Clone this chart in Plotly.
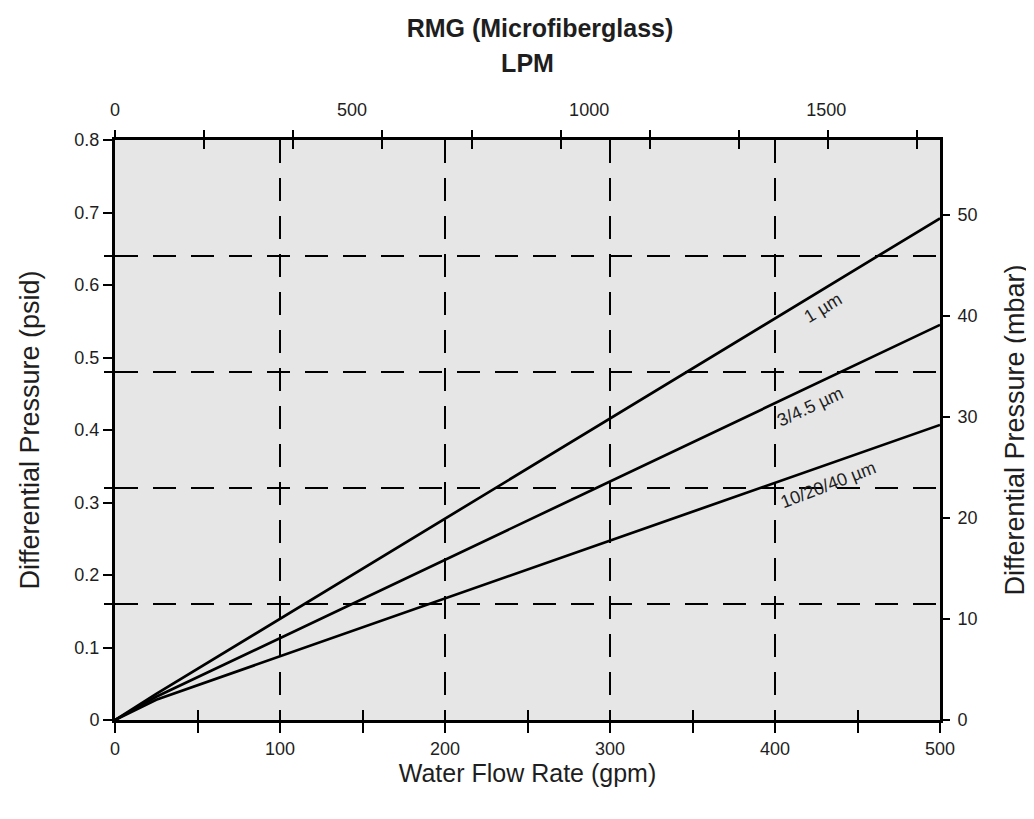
import plotly.graph_objects as go

# ---- data ----
flow_gpm = [0, 25, 500]
dp_1um = [0, 0.036, 0.692]
dp_3_45um = [0, 0.032, 0.545]
dp_10_20_40um = [0, 0.028, 0.407]

series_names = ["1 µm", "3/4.5 µm", "10/20/40 µm"]
label_gpm = [429, 421, 432]
label_psid = [0.568, 0.432, 0.324]
label_angle = [-31, -25, -21]

gpm_ticks = [0, 100, 200, 300, 400, 500]
gpm_minor = [0, 50, 100, 150, 200, 250, 300, 350, 400, 450, 500]
psid_ticks = [0, 0.1, 0.2, 0.3, 0.4, 0.5, 0.6, 0.7, 0.8]
psid_grid = [0.16, 0.32, 0.48, 0.64]
mbar_ticks = [0, 10, 20, 30, 40, 50]
lpm_labels = [0, 500, 1000, 1500]
lpm_marks = [0, 188, 376, 564, 752, 940, 1128, 1316, 1504, 1692]

FONT = "Liberation Sans, Arial, sans-serif"
TXT = "#1e1e1e"
DASH = "23px,15px"
OFF = 8  # page body margin

fig = go.Figure()
for name, ys in zip(series_names, [dp_1um, dp_3_45um, dp_10_20_40um]):
    fig.add_trace(go.Scatter(x=flow_gpm, y=ys, mode="lines", name=name,
                             line=dict(color="black", width=2.7),
                             showlegend=False, xaxis="x", yaxis="y"))

# invisible anchors for secondary axes
for xa, ya in [("x2", "y"), ("x3", "y"), ("x4", "y"), ("x", "y2"), ("x", "y3")]:
    fig.add_trace(go.Scatter(x=[0], y=[0], mode="markers", marker=dict(opacity=0),
                             hoverinfo="skip", showlegend=False, xaxis=xa, yaxis=ya))

for name, gx, gy, ang in zip(series_names, label_gpm, label_psid, label_angle):
    fig.add_annotation(x=gx, y=gy, xref="x", yref="y", text=name, showarrow=False,
                       textangle=ang, font=dict(family=FONT, size=18, color=TXT))

fig.update_layout(
    width=1034, height=819,
    margin=dict(l=115 - OFF, r=102, t=140 - OFF, b=107),
    paper_bgcolor="white",
    plot_bgcolor="#e6e6e6",
    font=dict(family=FONT, size=18, color=TXT),
    title=dict(text="<b>RMG (Microfiberglass)</b>", x=(540 - OFF) / 1034, xref="container",
               y=1 - (28 - OFF) / 819, yref="container", xanchor="center", yanchor="middle",
               font=dict(family=FONT, size=25, color=TXT)),
    xaxis=dict(range=[0, 500], tickvals=gpm_ticks, ticks="outside", ticklen=10,
               tickwidth=2, tickcolor="black",
               minor=dict(tickvals=gpm_minor, ticks="outside", ticklen=10,
                          tickwidth=2, tickcolor="black", showgrid=False),
               showgrid=True, gridcolor="black", gridwidth=2, griddash=DASH,
               showline=True, linecolor="black", linewidth=3, mirror=True,
               zeroline=False, automargin=False,
               title=dict(text="Water Flow Rate (gpm)", standoff=6,
                          font=dict(family=FONT, size=25, color=TXT)),
               tickfont=dict(family=FONT, size=18, color=TXT)),
    xaxis3=dict(range=[0, 500], overlaying="x", side="bottom", anchor="y",
                tickvals=gpm_minor, ticks="inside", ticklen=10, tickwidth=2,
                tickcolor="black", showticklabels=False, showgrid=False,
                zeroline=False, showline=False),
    xaxis2=dict(range=[0, 1740], overlaying="x", side="top", anchor="y",
                tickvals=lpm_labels, ticks="", ticklabelstandoff=19,
                showgrid=False, zeroline=False, showline=False, automargin=False,
                minor=dict(tickvals=lpm_marks, ticks="outside", ticklen=9,
                           tickwidth=2, tickcolor="black", showgrid=False),
                title=dict(text="<b>LPM</b>", standoff=20,
                           font=dict(family=FONT, size=25, color=TXT)),
                tickfont=dict(family=FONT, size=18, color=TXT)),
    xaxis4=dict(range=[0, 1740], overlaying="x", side="top", anchor="y",
                tickvals=lpm_marks, ticks="inside", ticklen=9, tickwidth=2,
                tickcolor="black", showticklabels=False, showgrid=False,
                zeroline=False, showline=False),
    yaxis=dict(range=[0, 0.8], tickvals=psid_ticks, ticks="outside", ticklen=9,
               tickwidth=2, tickcolor="black", showgrid=False, zeroline=False,
               showline=True, linecolor="black", linewidth=3, mirror=True,
               automargin=False,
               title=dict(text="Differential Pressure (psid)", standoff=27,
                          font=dict(family=FONT, size=27, color=TXT)),
               tickfont=dict(family=FONT, size=18, color=TXT)),
    yaxis3=dict(range=[0, 0.8], overlaying="y", side="left", anchor="x",
                tickvals=psid_grid, ticks="inside", ticklen=10, tickwidth=2,
                tickcolor="black", showticklabels=False,
                minor=dict(tickvals=psid_grid, ticks="outside", ticklen=10,
                           tickwidth=2, tickcolor="black", showgrid=False),
                showgrid=True, gridcolor="black", gridwidth=2, griddash=DASH,
                zeroline=False, showline=False),
    yaxis2=dict(range=[0, 57.4], overlaying="y", side="right", anchor="x",
                tickvals=mbar_ticks, ticks="outside", ticklen=9, tickwidth=2,
                tickcolor="black", showgrid=False, zeroline=False, showline=False,
                automargin=False, ticklabelstandoff=4,
                title=dict(text="Differential Pressure (mbar)", standoff=28,
                           font=dict(family=FONT, size=27, color=TXT)),
                tickfont=dict(family=FONT, size=18, color=TXT)),
)

fig.write_html("out.html")
